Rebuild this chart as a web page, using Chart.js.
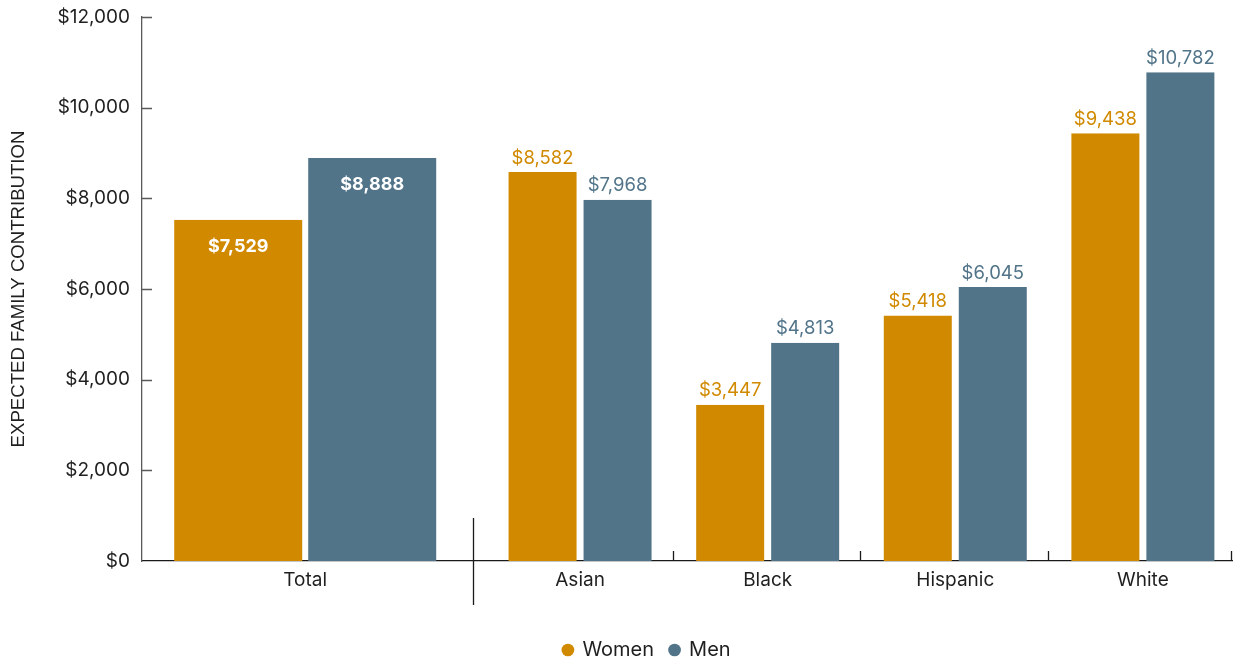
<!DOCTYPE html>
<html>
<head>
<meta charset="utf-8">
<title>Expected family contribution by gender</title>
<script src="https://cdn.jsdelivr.net/npm/chart.js@4.4.1/dist/chart.umd.min.js"></script>
<style>
  html, body { margin: 0; padding: 0; background: #ffffff; }
  #wrap { width: 1235px; height: 660px; }
</style>
</head>
<body>
<div id="wrap"><canvas id="efc" width="1235" height="660"></canvas></div>
<script>
// ---- data ----
const categories = ['Total', 'Asian', 'Black', 'Hispanic', 'White'];
const women = [7529, 8582, 3447, 5418, 9438];
const men = [8888, 7968, 4813, 6045, 10782];
const yTickValues = [0, 2000, 4000, 6000, 8000, 10000, 12000];
const seriesNames = ['Women', 'Men'];

// ---- layout of the x axis (axis units): wide Total panel, then four equal groups ----
const slotCenters = [0.87, 2.335, 3.335, 4.335, 5.335];
const groupEdges = [2.835, 3.835, 4.835, 5.81];
const panelDivider = 1.765;
const xMax = 5.81;

const WOMEN_COLOR = '#D18A00';
const MEN_COLOR = '#517489';
const TEXT_COLOR = '#1f1f1f';
const FONT = 'Inter';

const money = v => '$' + Number(v).toLocaleString('en-US');

// one dataset holds either the Total bar or the four group bars
function series(values, totalOnly) {
  return categories.map((c, i) => ({
    x: slotCenters[i],
    y: (i === 0) === totalOnly ? values[i] : null
  }));
}

function barSet(name, values, color, totalOnly) {
  const half = totalOnly ? 3 : 3.5;
  return {
    label: name,
    data: series(values, totalOnly),
    backgroundColor: color,
    borderColor: 'rgba(0,0,0,0)',
    borderWidth: { left: half, right: half, top: 0, bottom: 0 },
    borderSkipped: false,
    inflateAmount: 0,
    barThickness: totalOnly ? 134 : 75,
    skipNull: true
  };
}

// value labels: inside the Total bars, above the group bars
const valueLabels = {
  id: 'valueLabels',
  afterDatasetsDraw(chart) {
    const ctx = chart.ctx;
    chart.data.datasets.forEach((ds, di) => {
      const meta = chart.getDatasetMeta(di);
      meta.data.forEach((bar, i) => {
        const v = ds.data[i].y;
        if (v === null || v === undefined) return;
        ctx.save();
        ctx.textAlign = 'center';
        ctx.textBaseline = 'middle';
        if (i === 0) {
          ctx.font = `bold 18px ${FONT}`;
          ctx.fillStyle = '#ffffff';
          ctx.fillText(money(v), bar.x, bar.y + 27);
        } else {
          ctx.font = `18.5px ${FONT}`;
          ctx.fillStyle = ds.backgroundColor;
          ctx.fillText(money(v), bar.x, bar.y - 14);
        }
        ctx.restore();
      });
    });
  }
};

// inward tick marks on both axes and the divider after the Total panel
const axisMarks = {
  id: 'axisMarks',
  afterDraw(chart) {
    const { ctx, chartArea, scales } = chart;
    const x = scales.x, y = scales.y;
    ctx.save();
    ctx.lineWidth = 1.3;
    ctx.strokeStyle = '#5a5a5a';
    ctx.beginPath();
    yTickValues.forEach(v => {
      if (v === 0) return;
      const py = Math.round(y.getPixelForValue(v)) + 0.5;
      ctx.moveTo(chartArea.left, py);
      ctx.lineTo(chartArea.left + 10, py);
    });
    ctx.stroke();
    ctx.strokeStyle = '#1a1a1a';
    ctx.beginPath();
    groupEdges.forEach(v => {
      const px = Math.round(x.getPixelForValue(v)) - 0.5;
      ctx.moveTo(px, chartArea.bottom);
      ctx.lineTo(px, chartArea.bottom - 10);
    });
    const dx = Math.round(x.getPixelForValue(panelDivider)) + 0.5;
    ctx.moveTo(dx, chartArea.bottom - 43);
    ctx.lineTo(dx, chartArea.bottom + 44);
    ctx.stroke();
    ctx.restore();
  }
};

// nudge the legend row to the right of the canvas centre
const legendShift = {
  id: 'legendShift',
  afterLayout(chart) {
    if (chart.legend) {
      chart.legend.left += 29;
      chart.legend.right += 29;
    }
  }
};

new Chart(document.getElementById('efc'), {
  type: 'bar',
  data: {
    datasets: [
      barSet(seriesNames[0], women, WOMEN_COLOR, true),
      barSet(seriesNames[1], men, MEN_COLOR, true),
      barSet(seriesNames[0], women, WOMEN_COLOR, false),
      barSet(seriesNames[1], men, MEN_COLOR, false)
    ]
  },
  options: {
    responsive: false,
    animation: false,
    layout: { padding: { left: 4, top: 17, right: 3, bottom: -10 } },
    plugins: {
      tooltip: { enabled: false },
      legend: {
        position: 'bottom',
        labels: {
          usePointStyle: true,
          pointStyle: 'circle',
          boxWidth: 9,
          boxHeight: 9,
          padding: 16,
          color: TEXT_COLOR,
          font: { family: FONT, size: 20 },
          filter: item => item.datasetIndex >= 2
        }
      }
    },
    scales: {
      x: {
        type: 'linear',
        min: 0,
        max: xMax,
        offset: false,
        grid: { display: false, drawTicks: false, offset: false },
        border: { display: true, color: '#1a1a1a', width: 1.3 },
        afterBuildTicks: s => { s.ticks = slotCenters.map(v => ({ value: v })); },
        ticks: {
          autoSkip: false,
          maxRotation: 0,
          padding: 8,
          color: TEXT_COLOR,
          font: { family: FONT, size: 19 },
          callback: (v, i) => categories[i]
        },
        afterFit: s => { s.height = 63; }
      },
      y: {
        min: 0,
        max: 12000,
        afterBuildTicks: s => { s.ticks = yTickValues.map(v => ({ value: v })); },
        grid: { display: false, drawTicks: false },
        border: { display: true, color: '#5a5a5a', width: 1.3 },
        ticks: {
          padding: 12,
          color: TEXT_COLOR,
          font: { family: FONT, size: 19 },
          callback: v => money(v)
        },
        title: {
          display: true,
          text: 'EXPECTED FAMILY CONTRIBUTION',
          color: TEXT_COLOR,
          font: { family: 'Liberation Sans', size: 18.6 },
          padding: { top: 4, bottom: 4 }
        },
        afterFit: s => {
          s.width = 138;
          s.paddingTop = 0;
          s.paddingBottom = 0;
        }
      }
    }
  },
  plugins: [valueLabels, axisMarks, legendShift]
});
</script>
</body>
</html>
